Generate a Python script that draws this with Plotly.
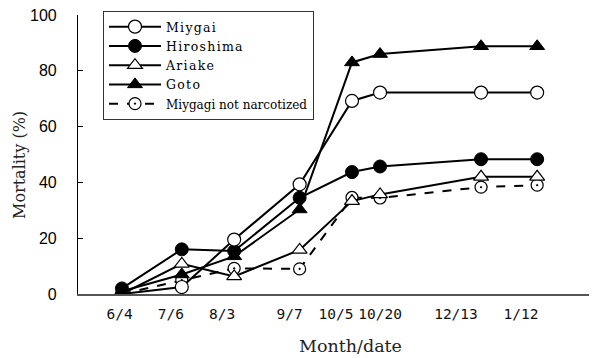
import plotly.graph_objects as go

dates = ["6/4", "7/6", "8/3", "9/7", "10/5", "10/20", "12/13", "1/12"]
days = [0, 32, 60, 95, 123, 138, 192, 222]  # days since 6/4

miygai = [0, 2.5, 19.5, 39.3, 69.2, 72.2, 72.2, 72.2]
hiroshima = [2, 16, 15.4, 34.5, 43.7, 45.7, 48.3, 48.3]
ariake = [0, 10.8, 6.3, 15.8, 33.3, 35.7, 42, 42]
goto = [1, 7, 13.5, 30.3, 83, 86, 88.8, 88.8]
not_narc = [0, 5, 9.2, 9.0, 34.6, 34.4, 38.3, 39.0]

# where the original placed its date labels (in days since 6/4)
label_pos = [-1.3, 26.2, 53.5, 89.6, 114.4, 138, 178.6, 213.4]

fig = go.Figure()
L = dict(color="black", width=2)

def sp(s):
    return '<span style="letter-spacing:1.3px">' + s + '</span>'

fig.add_trace(go.Scatter(x=days, y=not_narc, mode="lines+markers",
    name='<span style="font-size:12px">Miygagi not narcotized</span>',
    line=dict(color="black", width=2, dash="dash"),
    marker=dict(symbol="circle-dot", size=12, color="white", line=dict(color="black", width=1.2))))
fig.add_trace(go.Scatter(x=days, y=ariake, mode="lines+markers", name=sp("Ariake"),
    line=L, marker=dict(symbol="triangle-up", size=13, color="white", line=dict(color="black", width=1.2))))
fig.add_trace(go.Scatter(x=days, y=hiroshima, mode="lines+markers", name=sp("Hiroshima"),
    line=L, marker=dict(symbol="circle", size=13, color="black", line=dict(color="black", width=1))))
fig.add_trace(go.Scatter(x=days, y=miygai, mode="lines+markers", name=sp("Miygai"),
    line=L, marker=dict(symbol="circle", size=13, color="white", line=dict(color="black", width=1.2))))
fig.add_trace(go.Scatter(x=days, y=goto, mode="lines+markers", name=sp("Goto"),
    line=L, marker=dict(symbol="triangle-up", size=13, color="black", line=dict(color="black", width=1))))

order = {sp("Miygai"): 1, sp("Hiroshima"): 2, sp("Ariake"): 3, sp("Goto"): 4}
for t in fig.data:
    t.legendrank = order.get(t.name, 5)

# page body has an 8px default margin; figure spans screen x 8..597, y 8..358
PX0, PX1, PY0, PY1 = 78, 597, 294, 15
def px(x):
    return (x - PX0) / (PX1 - PX0)
def py(y):
    return (PY0 - y) / (PY0 - PY1)

fig.update_layout(
    width=589, height=350,
    margin=dict(l=70, r=0, t=7, b=64, autoexpand=False),
    paper_bgcolor="white", plot_bgcolor="white",
    showlegend=True,
    legend=dict(x=px(103), y=py(11), xanchor="left", yanchor="top",
                bordercolor="#333", borderwidth=1, bgcolor="white",
                font=dict(family="DejaVu Serif", size=12.5, color="black"),
                itemwidth=52, tracegroupgap=0),
    xaxis=dict(range=[-23.5, 254], tickvals=label_pos, ticktext=dates, tickangle=0,
               automargin=False, ticklabelstandoff=6,
               showline=True, linecolor="#555", linewidth=1.5, ticks="",
               showgrid=False, zeroline=False,
               tickfont=dict(family="DejaVu Sans Mono", size=14.5, color="#111")),
    yaxis=dict(range=[0, 100], tickvals=[0, 20, 40, 60, 80, 100], automargin=False,
               showline=True, linecolor="black", linewidth=1.2, ticks="inside",
               ticklen=5, tickcolor="black", showgrid=False, zeroline=False,
               ticklabelstandoff=17, ticklabeloverflow="allow",
               tickfont=dict(family="Liberation Sans", size=16, color="black")),
    annotations=[
        dict(text="Month/date", xref="paper", yref="paper",
             x=px(350), y=py(346), xanchor="center", yanchor="middle",
             showarrow=False,
             font=dict(family="DejaVu Serif", size=17.5, color="#222")),
        dict(text="Mortality (%)", xref="paper", yref="paper", textangle=-90,
             x=px(19), y=py(165), xanchor="center", yanchor="middle",
             showarrow=False,
             font=dict(family="DejaVu Serif", size=16, color="#222")),
    ],
)

fig.write_html("out.html")
